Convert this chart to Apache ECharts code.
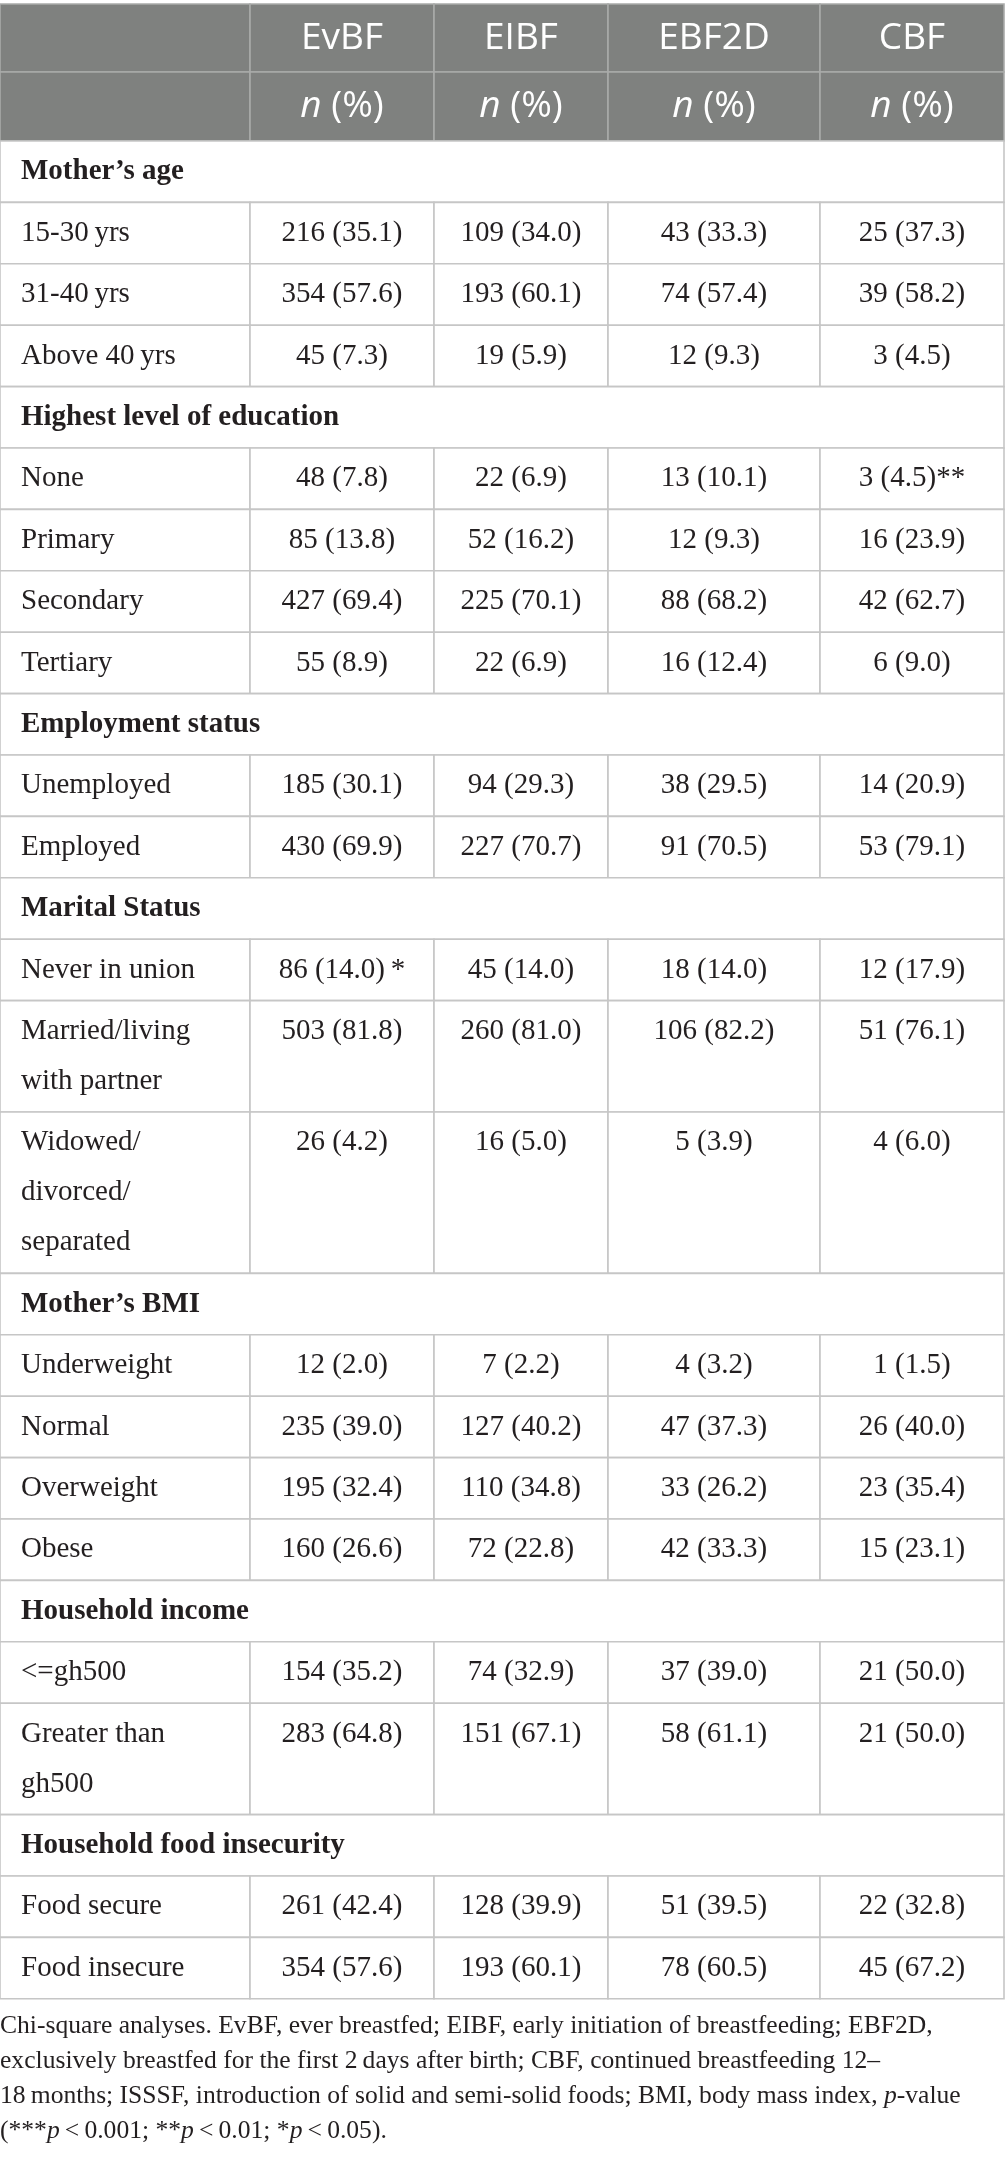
<!DOCTYPE html>
<html>
<head>
<meta charset="utf-8">
<script src="https://cdn.jsdelivr.net/npm/echarts@6.0.0/dist/echarts.min.js"></script>
<style>
  html, body { margin: 0; padding: 0; background: #fff; }
  #chart { width: 1005px; height: 2166px; }
</style>
</head>
<body>
<div id="chart"></div>
<script>
'use strict';

///// data /////

const columns = ['EvBF', 'EIBF', 'EBF2D', 'CBF'];
const unitLabel = '{i|n} (%)';

const sections = [
  'Mother’s age',
  'Highest level of education',
  'Employment status',
  'Marital Status',
  'Mother’s BMI',
  'Household income',
  'Household food insecurity'
];

// row labels per section ("\n" = wrapped line as printed)
const rowLabels = [
  ['15-30\u2009yrs', '31-40\u2009yrs', 'Above 40\u2009yrs'],
  ['None', 'Primary', 'Secondary', 'Tertiary'],
  ['Unemployed', 'Employed'],
  ['Never in union', 'Married/living\nwith partner', 'Widowed/\ndivorced/\nseparated'],
  ['Underweight', 'Normal', 'Overweight', 'Obese'],
  ['<=gh500', 'Greater than\ngh500'],
  ['Food secure', 'Food insecure']
];

// values in row order (all sections flattened)
const evbfN   = [216, 354, 45, 48, 85, 427, 55, 185, 430, 86, 503, 26, 12, 235, 195, 160, 154, 283, 261, 354];
const evbfPct = [35.1, 57.6, 7.3, 7.8, 13.8, 69.4, 8.9, 30.1, 69.9, 14.0, 81.8, 4.2, 2.0, 39.0, 32.4, 26.6, 35.2, 64.8, 42.4, 57.6];
const eibfN   = [109, 193, 19, 22, 52, 225, 22, 94, 227, 45, 260, 16, 7, 127, 110, 72, 74, 151, 128, 193];
const eibfPct = [34.0, 60.1, 5.9, 6.9, 16.2, 70.1, 6.9, 29.3, 70.7, 14.0, 81.0, 5.0, 2.2, 40.2, 34.8, 22.8, 32.9, 67.1, 39.9, 60.1];
const ebf2dN   = [43, 74, 12, 13, 12, 88, 16, 38, 91, 18, 106, 5, 4, 47, 33, 42, 37, 58, 51, 78];
const ebf2dPct = [33.3, 57.4, 9.3, 10.1, 9.3, 68.2, 12.4, 29.5, 70.5, 14.0, 82.2, 3.9, 3.2, 37.3, 26.2, 33.3, 39.0, 61.1, 39.5, 60.5];
const cbfN   = [25, 39, 3, 3, 16, 42, 6, 14, 53, 12, 51, 4, 1, 26, 23, 15, 21, 21, 22, 45];
const cbfPct = [37.3, 58.2, 4.5, 4.5, 23.9, 62.7, 9.0, 20.9, 79.1, 17.9, 76.1, 6.0, 1.5, 40.0, 35.4, 23.1, 50.0, 50.0, 32.8, 67.2];

// significance markers: [column, row, mark]
const sigMarks = [[0, 9, '\u2009*'], [3, 3, '**']];

const notes = [
  'Chi-square analyses. EvBF, ever breastfed; EIBF, early initiation of breastfeeding; EBF2D,',
  'exclusively breastfed for the first 2\u2009days after birth; CBF, continued breastfeeding 12–',
  '18\u2009months; ISSSF, introduction of solid and semi-solid foods; BMI, body mass index, {i|p}-value',
  '(***{i|p}\u2009<\u20090.001; **{i|p}\u2009<\u20090.01; *{i|p}\u2009<\u20090.05).'
];

///// layout /////

const W = 1005, H = 2166;
const colX = [0, 250, 434, 608, 820, 1004];
const tableTop = 4;
const headRowH = [68, 69];
const rowH = 61.4;
const lineH = 50;
const padX = 21;

const HEAD_BG = '#7f817f';
const HEAD_LINE = '#a9aaa9';
const BODY_LINE = '#c6c6c6';
const INK = '#231f20';
const SERIF = '"Liberation Serif", "Times New Roman", serif';
const SANS = '"Open Sans", "Noto Sans", sans-serif';
const BODY_SIZE = 29;
const NOTE_SIZE = 25.6;

///// cells /////

const valueCols = [[evbfN, evbfPct], [eibfN, eibfPct], [ebf2dN, ebf2dPct], [cbfN, cbfPct]];
const cells = [];

let y = tableTop;
// header rows
for (let r = 0; r < 2; r++) {
  const h = headRowH[r];
  for (let c = 0; c < 5; c++) {
    cells.push({
      box: [colX[c], y, colX[c + 1], y + h], kind: 'head',
      text: c == 0 ? '' : (r == 0 ? columns[c - 1] : unitLabel)
    });
  }
  y += h;
}

let k = 0;
for (let s = 0; s < sections.length; s++) {
  cells.push({ box: [colX[0], y, colX[5], y + rowH], kind: 'section', text: sections[s] });
  y += rowH;
  for (const label of rowLabels[s]) {
    const lines = label.split('\n').length;
    const h = rowH + (lines - 1) * lineH;
    cells.push({ box: [colX[0], y, colX[1], y + h], kind: 'label', text: label });
    for (let c = 0; c < 4; c++) {
      const [ns, ps] = valueCols[c];
      let t = ns[k] + ' (' + ps[k].toFixed(1) + ')';
      for (const m of sigMarks) if (m[0] == c && m[1] == k) t += m[2];
      cells.push({ box: [colX[c + 1], y, colX[c + 2], y + h], kind: 'value', text: t });
    }
    y += h;
    k++;
  }
}
const tableBottom = y;

///// chart /////

const renderCell = (params, api) => {
  const cell = cells[params.dataIndex];
  const p0 = api.coord([api.value(0), api.value(1)]);
  const p1 = api.coord([api.value(2), api.value(3)]);
  const head = cell.kind == 'head';
  const children = [{
    type: 'rect',
    shape: { x: p0[0], y: p0[1], width: p1[0] - p0[0], height: p1[1] - p0[1] },
    style: { fill: head ? HEAD_BG : '#fff', stroke: head ? HEAD_LINE : BODY_LINE, lineWidth: 1.6 }
  }];
  if (cell.text) {
    let style;
    if (head) {
      style = {
        text: cell.text, x: (p0[0] + p1[0]) / 2, y: (p0[1] + p1[1]) / 2,
        align: 'center', verticalAlign: 'middle',
        fill: '#fff', fontFamily: SANS, fontSize: 37,
        rich: { i: { fontFamily: SANS, fontSize: 37, fontStyle: 'italic', fill: '#fff' } }
      };
    } else {
      const left = cell.kind != 'value';
      style = {
        text: cell.text,
        x: left ? p0[0] + padX : (p0[0] + p1[0]) / 2,
        y: p0[1] + (rowH - lineH) / 2,
        align: left ? 'left' : 'center', verticalAlign: 'top',
        lineHeight: lineH, fill: INK, fontFamily: SERIF, fontSize: BODY_SIZE,
        fontWeight: cell.kind == 'section' ? 'bold' : 'normal'
      };
    }
    children.push({ type: 'text', style: style });
  }
  return { type: 'group', children: children };
};

const chart = echarts.init(document.getElementById('chart'), null, { renderer: 'canvas' });

chart.setOption({
  animation: false,
  backgroundColor: '#fff',
  title: {
    text: notes.join('\n'),
    left: 0,
    top: tableBottom + 10,
    padding: 0,
    textStyle: {
      fontFamily: SERIF, fontSize: NOTE_SIZE, fontWeight: 'normal', color: INK, lineHeight: 35,
      rich: { i: { fontFamily: SERIF, fontSize: NOTE_SIZE, fontStyle: 'italic', color: INK, lineHeight: 35 } }
    }
  },
  grid: { left: 0, right: 0, top: 0, bottom: 0 },
  xAxis: { type: 'value', min: 0, max: W, show: false },
  yAxis: { type: 'value', min: 0, max: H, inverse: true, show: false },
  series: [{
    type: 'custom',
    silent: true,
    clip: false,
    renderItem: renderCell,
    data: cells.map(c => c.box)
  }]
});
</script>
</body>
</html>
